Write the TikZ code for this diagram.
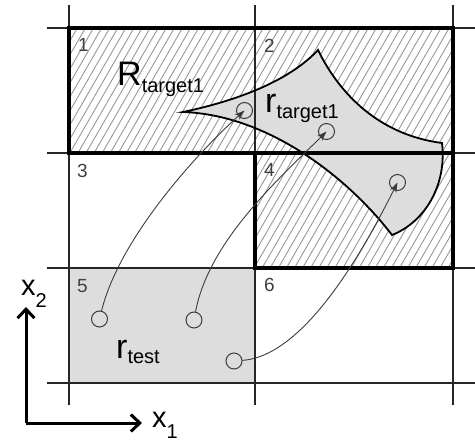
\documentclass[tikz,border=0pt]{standalone}
\usepackage{fontspec}
\setmainfont{Liberation Sans}
\usetikzlibrary{arrows.meta, patterns.meta}
\definecolor{regionfill}{RGB}{221, 221, 221}
\definecolor{hatchgray}{RGB}{150, 150, 150}
\definecolor{linegray}{RGB}{60, 60, 60}

\begin{document}
\begin{tikzpicture}[
    x=1pt, y=-1pt, % pixel-like units, y grows downwards
    gridline/.style={line width=1.8pt, draw=black!85},
    boxline/.style={line width=4pt, draw=black},
    hatched/.style={pattern={Lines[angle=60, distance=7pt, line width=0.9pt]}, pattern color=hatchgray},
    cellnum/.style={anchor=base west, inner sep=0pt, font=\fontsize{19}{19}\selectfont, text=black!75},
    biglabel/.style={anchor=base west, inner sep=0pt, font=\fontsize{34}{34}\selectfont},
    axislabel/.style={anchor=base west, inner sep=0pt, font=\fontsize{29}{29}\selectfont},
    sample/.style={circle, draw=linegray, line width=1pt, minimum size=16pt, inner sep=0pt},
    maparrow/.style={-{Stealth[length=10pt, width=7pt]}, line width=0.9pt, draw=linegray},
    axis/.style={-{Straight Barb[length=9pt, width=17pt, line width=3pt]}, line width=3pt}
]
\useasboundingbox (0,0) rectangle (475,442);

% grid positions
\def\xa{69}  \def\xb{255} \def\xc{453}
\def\ya{28}  \def\yb{153} \def\yc{268} \def\yd{383}

% ==========================================
% 1. cell backgrounds
% ==========================================
\fill[hatched] (\xa,\ya) rectangle (\xc,\yb);
\fill[hatched] (\xb,\yb) rectangle (\xc,\yc);
\fill[regionfill] (\xa,\yc) rectangle (\xb,\yd);

% target region r_target1
\coordinate (tip)   at (183,112);
\coordinate (top)   at (318,50);
\coordinate (east)  at (442,143);
\coordinate (south) at (392,235);
\fill[regionfill] (tip) .. controls (240,100) and (290,80) .. (top)
    .. controls (340,95) and (380,135) .. (east)
    .. controls (447,185) and (425,222) .. (south)
    .. controls (350,180) and (270,115) .. (tip) -- cycle;

% ==========================================
% 2. grid lines and thick boxes
% ==========================================
\foreach \gx in {\xa,\xb,\xc}
    \draw[gridline] (\gx,5) -- (\gx,405);
\foreach \gy in {\ya,\yb,\yc,\yd}
    \draw[gridline] (47,\gy) -- (475,\gy);

\draw[boxline] (\xa,\ya) rectangle (\xc,\yb);
\draw[boxline] (\xb,\yb) rectangle (\xc,\yc);

% outline of r_target1
\draw[line width=1.8pt, line join=miter] (tip) .. controls (240,100) and (290,80) .. (top)
    .. controls (340,95) and (380,135) .. (east)
    .. controls (447,185) and (425,222) .. (south)
    .. controls (350,180) and (270,115) .. (tip) -- cycle;

% ==========================================
% 3. labels
% ==========================================
\node[cellnum] (num1) at (78,51)  {1};
\node[cellnum] (num2) at (264,52) {2};
\node[cellnum] (num3) at (77,177) {3};
\node[cellnum] (num4) at (264,176) {4};
\node[cellnum] (num5) at (77,292) {5};
\node[cellnum] (num6) at (264,291) {6};

\node[biglabel] (Rtarget) at (117,85) {R\raisebox{-7pt}{\fontsize{20}{20}\selectfont target1}};
\node[biglabel] (rtarget) at (265,112) {r\raisebox{-6pt}{\fontsize{20}{20}\selectfont target1}};
\node[biglabel] (rtest) at (116,358) {r\raisebox{-5pt}{\fontsize{20}{20}\selectfont test}};

% ==========================================
% 4. sample points and their mapping
% ==========================================
\node[sample] (q1) at (99.5,319) {};
\node[sample] (q2) at (194,320) {};
\node[sample] (q3) at (234,361) {};
\node[sample] (p1) at (244.5,110.5) {};
\node[sample] (p2) at (326.5,131.5) {};
\node[sample] (p3) at (397.5,182.5) {};

\draw[maparrow] (q1) .. controls +(20,-80) and +(-50,45) .. (p1.center);
\draw[maparrow] (q2) .. controls +(15,-80) and +(-45,45) .. (p2.center);
\draw[maparrow] (q3) .. controls +(70,-5) and +(-35,70) .. (p3.center);

% ==========================================
% 5. axes
% ==========================================
\coordinate (origin) at (26,423);
\coordinate (xtwoend) at (26,307);
\coordinate (xoneend) at (142,423);
\draw[axis] (origin) -- (xtwoend);
\draw[axis] (origin) -- (xoneend);
\node[axislabel] (xtwo) at (21,295) {x\raisebox{-12pt}{\fontsize{20}{20}\selectfont 2}};
\node[axislabel] (xone) at (152,427) {x\raisebox{-11pt}{\fontsize{20}{20}\selectfont 1}};

\end{tikzpicture}
\end{document}
